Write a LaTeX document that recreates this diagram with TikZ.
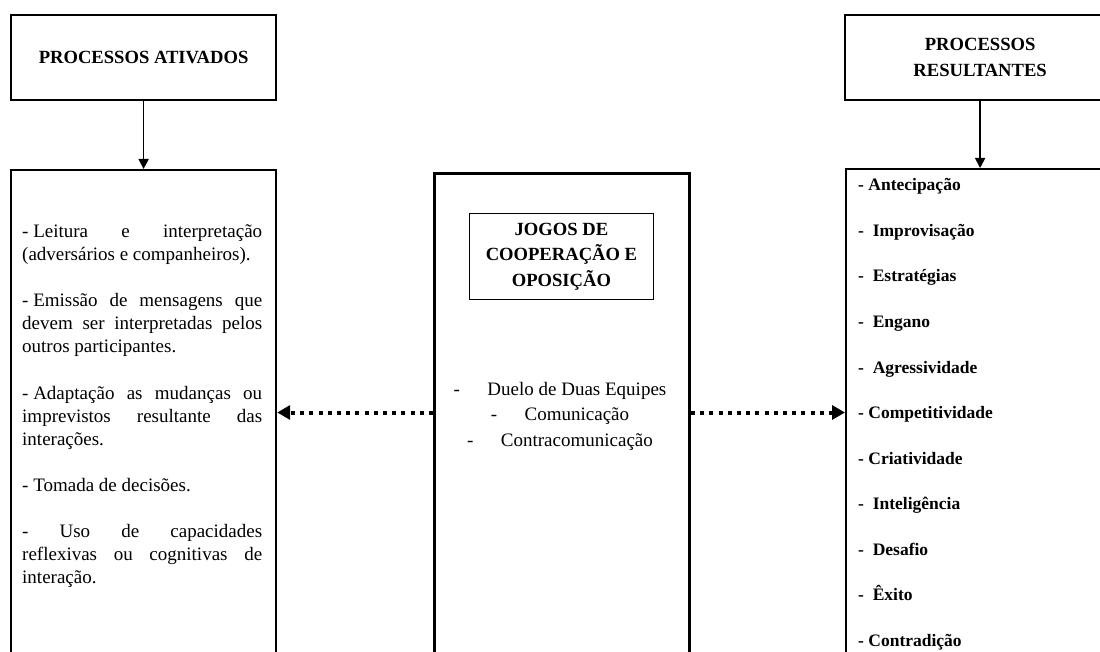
\documentclass[tikz,border=0pt]{standalone}
\usepackage{fontspec}
\setmainfont{Liberation Serif}
\usetikzlibrary{arrows.meta}
\tikzset{
  headbox/.style={draw, line width=2.2pt, anchor=north west, inner sep=0pt, minimum height=85pt,
    align=center, font=\bfseries\fontsize{18.6}{26}\selectfont},
  bigbox/.style={draw, line width=2.2pt, anchor=north west, inner sep=0pt, minimum height=540pt},
  titlebox/.style={draw, line width=0.9pt, anchor=north west, inner sep=0pt, minimum width=184pt,
    minimum height=86pt, align=center, font=\bfseries\fontsize{18.6}{25.5}\selectfont},
  bodytext/.style={anchor=north west, inner sep=0pt, text width=240pt, align=justify,
    font=\fontsize{19}{23.1}\selectfont},
  duelotext/.style={anchor=north, inner sep=0pt, align=center, font=\fontsize{19}{25.5}\selectfont},
  resitem/.style={anchor=base west, inner sep=0pt, font=\bfseries\fontsize{17.5}{21}\selectfont},
  downarrow/.style={-{Triangle[length=10pt,width=10pt]}, line width=1.7pt},
  dotarrow/.style={-{Triangle[length=13pt,width=14pt]}, line width=4pt, dash pattern=on 4pt off 5.2pt}
}
\begin{document}
\begin{tikzpicture}[x=1pt,y=-1pt]
  \useasboundingbox (0,0) rectangle (1100,652);
  \clip (0,0) rectangle (1100,652);
  \fill[white] (0,0) rectangle (1100,652);

  % header boxes
  \node[headbox, minimum width=265pt] (ativados) at (10,14) {PROCESSOS ATIVADOS};
  \node[headbox, minimum width=270pt] (resultantes) at (844,14) {PROCESSOS\\RESULTANTES};

  % main boxes
  \node[bigbox, minimum width=265pt] (ativbox) at (10,169) {};
  \node[bigbox, minimum width=255pt, line width=3pt] (jogosbox) at (433,172) {};
  \node[bigbox, minimum width=270pt] (resbox) at (845,168) {};
  \node[titlebox] (jogostitle) at (469,213) {JOGOS DE\\COOPERAÇÃO E\\OPOSIÇÃO};

  \draw[downarrow] (ativados.south) -- (ativados.south |- ativbox.north);
  \draw[downarrow] (resultantes.south) -- (resultantes.south |- resbox.north);

  % left box text
  \node[bodytext] (ativtext) at (22,221) {\setlength{\parskip}{23.1pt}\strut
    -\kern4.75pt Leitura e interpretação\linebreak (adversários e companheiros).\par
    -\kern4.75pt Emissão de mensagens que\linebreak devem ser interpretadas pelos\linebreak outros participantes.\par
    -\kern4.75pt Adaptação as mudanças ou\linebreak imprevistos resultante das\linebreak interações.\par
    -\kern4.75pt Tomada de decisões.\par
    - Uso de capacidades\linebreak reflexivas ou cognitivas de\linebreak interação.};

  % center list
  \node[duelotext] (duelo) at (560,382) {-\hspace{27.5pt}Duelo de Duas Equipes\\
    -\hspace{27.5pt}Comunicação\\ -\hspace{27.5pt}Contracomunicação};

  % right list
  \node[resitem] (r1) at (858,191) {- Antecipação};
  \node[resitem] (r2) at (858,236.5) {-\ \ Improvisação};
  \node[resitem] (r3) at (858,282) {-\ \ Estratégias};
  \node[resitem] (r4) at (858,327.5) {-\ \ Engano};
  \node[resitem] (r5) at (858,373) {-\ \ Agressividade};
  \node[resitem] (r6) at (858,418.5) {- Competitividade};
  \node[resitem] (r7) at (858,464) {- Criatividade};
  \node[resitem] (r8) at (858,509.5) {-\ \ Inteligência};
  \node[resitem] (r9) at (858,555) {-\ \ Desafio};
  \node[resitem] (r10) at (858,600.5) {-\ \ Êxito};
  \node[resitem] (r11) at (858,646) {- Contradição};

  % dotted connectors
  \coordinate (dotlevel) at (0,412.5);
  \draw[dotarrow] (jogosbox.west |- dotlevel) -- (ativbox.east |- dotlevel);
  \draw[dotarrow] (jogosbox.east |- dotlevel) -- (resbox.west |- dotlevel);
\end{tikzpicture}
\end{document}
